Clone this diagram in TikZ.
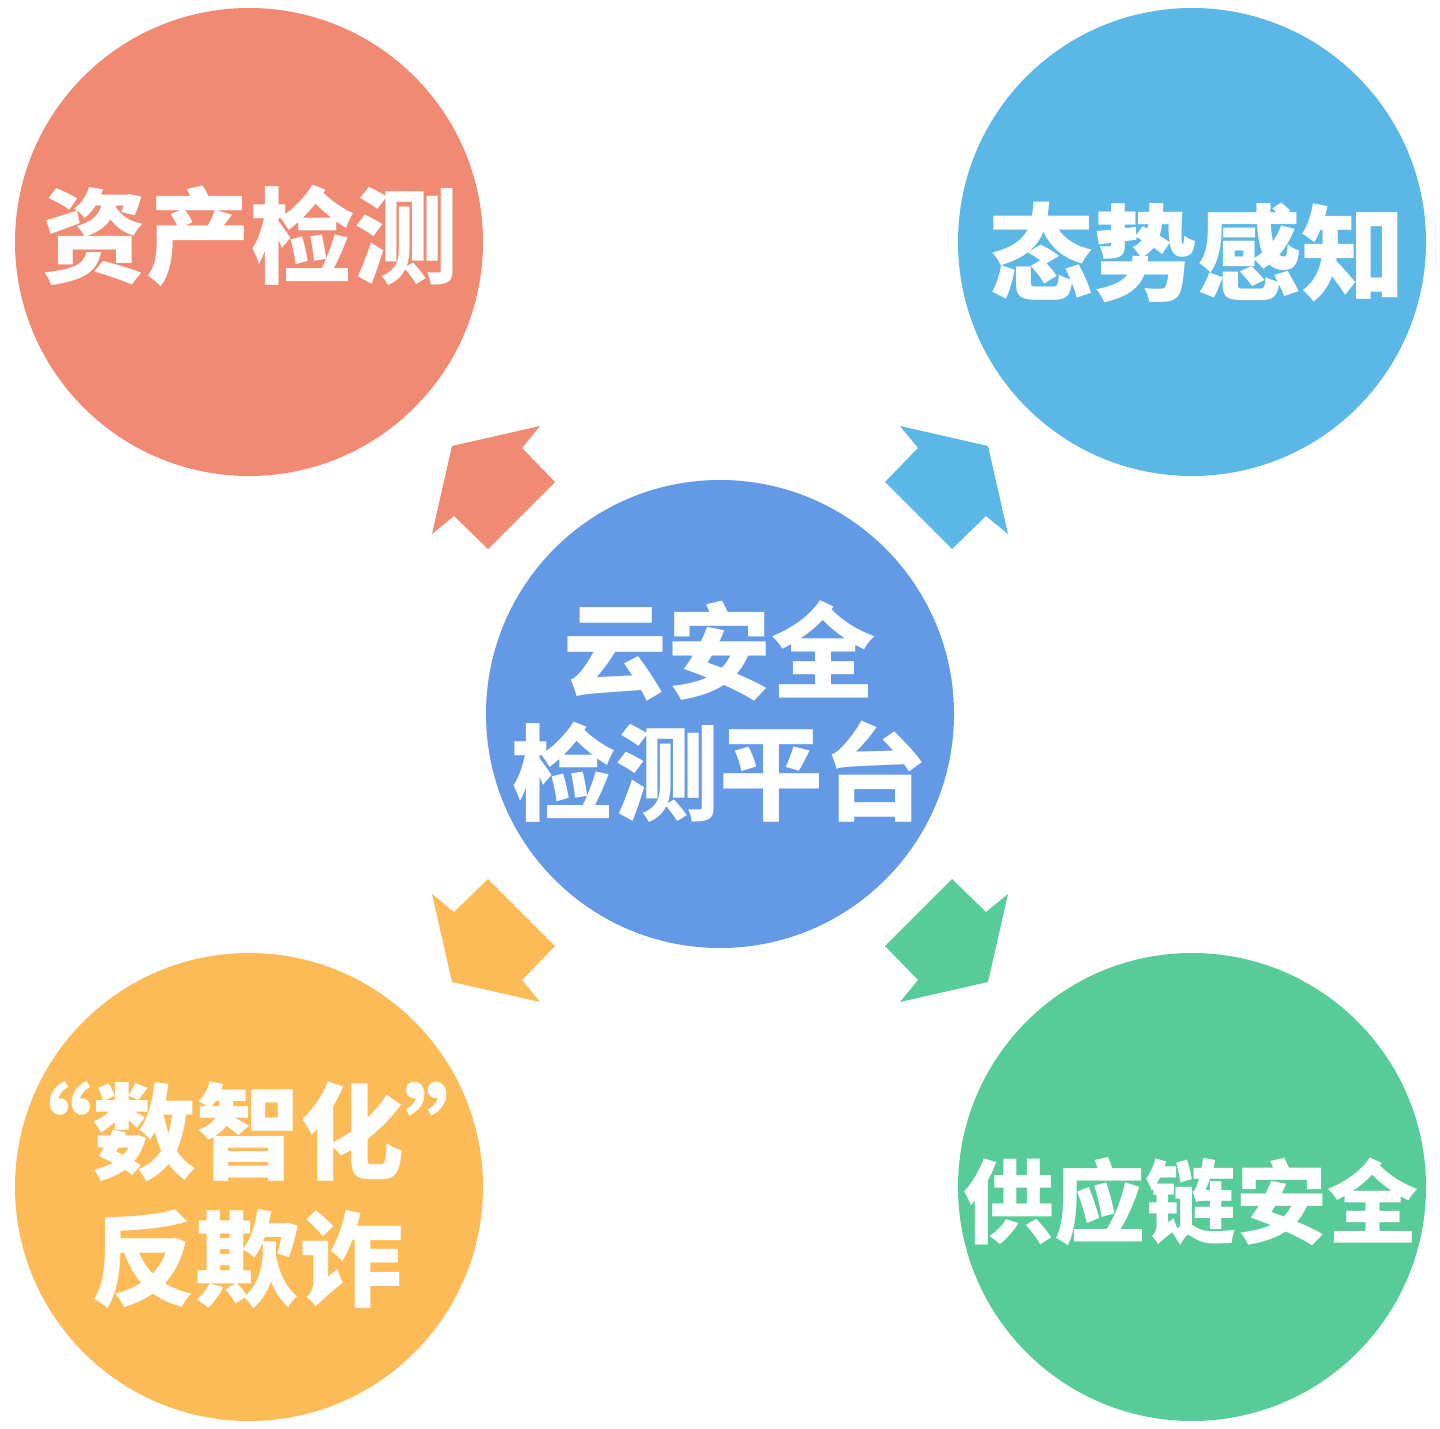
\documentclass[tikz,border=0pt]{standalone}
\usepackage{fontspec}
\newfontfamily\cjk{Noto Sans CJK SC}
\definecolor{salmon}{HTML}{F08A73}
\definecolor{sky}{HTML}{5AB7E6}
\definecolor{cornflower}{HTML}{6499E6}
\definecolor{amber}{HTML}{FDBB57}
\definecolor{mint}{HTML}{57CC99}

\begin{document}
\begin{tikzpicture}[x=1pt,y=-1pt,
		blob/.style={circle,minimum size=468pt,inner sep=0pt},
		caption/.style={text=white,inner sep=0pt,align=center,font=\cjk\bfseries\fontsize{104}{122}\selectfont}]
	\useasboundingbox (0,0) rectangle (1440,1429);
	\node[blob,fill=salmon] (asset) at (249,242) {};
	\node[blob,fill=sky] (aware) at (1192,242) {};
	\node[blob,fill=cornflower] (hub) at (720,714) {};
	\node[blob,fill=amber] (fraud) at (249,1187) {};
	\node[blob,fill=mint] (chain) at (1192,1187) {};
	\foreach \sx/\sy/\col in {1/1/salmon,-1/1/sky,1/-1/amber,-1/-1/mint}
		\fill[\col,shift={(hub.center)},xscale=\sx,yscale=\sy] (-165,-232) -- (-198,-266) -- (-180,-288) -- (-268,-268) -- (-288,-180) -- (-266,-198) -- (-232,-165) -- cycle;
	\node[caption] (assettext) at (250,236) {资产检测};
	\node[caption] (awaretext) at (1197,252) {态势感知};
	\node[caption] (hubtext) at (719,712) {云安全\\检测平台};
	\node[caption,font=\cjk\bfseries\fontsize{104}{127}\selectfont] (fraudtext) at (248,1195) {“数智化”\\反欺诈};
	\node[caption,font=\cjk\bfseries\fontsize{91}{110}\selectfont] (chaintext) at (1191,1202) {供应链安全};
\end{tikzpicture}
\end{document}
